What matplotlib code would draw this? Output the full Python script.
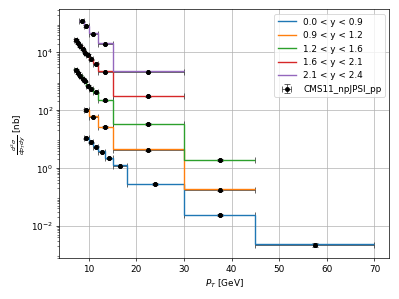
import numpy as np
import matplotlib
matplotlib.use("Agg")
import matplotlib.pyplot as plt
from matplotlib.ticker import LogLocator

# bin edges per rapidity slice
edges_y1 = [9, 10, 11, 12, 13.5, 15, 18, 30, 45, 70]
edges_y2 = [9, 10, 12, 15, 30, 45]
edges_y3 = [7, 7.5, 8, 8.5, 9, 9.5, 10, 11, 12, 15, 30, 45]
edges_y4 = [7, 7.5, 8, 8.5, 9, 9.5, 10, 11, 12, 15, 30]
edges_y5 = [8, 9, 10, 12, 15, 30]

# measured cross sections (black points)
data_y1 = [10.6, 7.7, 5.4, 3.65, 2.2, 1.2, 0.28, 0.0234, 0.00226]
data_y2 = [100, 60, 26, 4.2, 0.18]
data_y3 = [2530, 1930, 1570, 1240, 1000, 710, 560, 415, 216, 33, 1.9]
data_y4 = [26600, 20400, 16500, 12700, 9800, 8100, 5700, 4100, 2150, 297]
data_y5 = [117000, 81000, 44000, 20000, 2150]

err_y1 = [0.5, 0.35, 0.25, 0.17, 0.1, 0.06, 0.015, 0.002, 0.0004]
err_y2 = [6, 3.5, 1.5, 0.25, 0.015]
err_y3 = [150, 110, 90, 70, 55, 40, 30, 22, 12, 2, 0.15]
err_y4 = [1600, 1200, 950, 700, 550, 450, 320, 230, 120, 18]
err_y5 = [7000, 4500, 2500, 1100, 130]

# histogram (coloured steps)
pred_y1 = [10.9, 7.9, 5.6, 3.8, 2.3, 1.25, 0.29, 0.0245, 0.00235]
pred_y2 = [104, 62, 27, 4.4, 0.19]
pred_y3 = [2600, 1990, 1620, 1280, 1030, 730, 575, 430, 222, 34, 1.95]
pred_y4 = [27400, 21000, 17000, 13100, 10100, 8350, 5870, 4220, 2210, 306]
pred_y5 = [120500, 83400, 45300, 20600, 2210]

labels = ["0.0 < y < 0.9", "0.9 < y < 1.2", "1.2 < y < 1.6",
          "1.6 < y < 2.1", "2.1 < y < 2.4"]

all_edges = [edges_y1, edges_y2, edges_y3, edges_y4, edges_y5]
all_data = [data_y1, data_y2, data_y3, data_y4, data_y5]
all_err = [err_y1, err_y2, err_y3, err_y4, err_y5]
all_pred = [pred_y1, pred_y2, pred_y3, pred_y4, pred_y5]

plt.rcParams["font.size"] = 10.3

fig, ax = plt.subplots(figsize=(6.4, 4.8), dpi=62.35)

for i in range(5):
    ax.stairs(all_pred[i], all_edges[i], baseline=None, color="C%d" % i,
              linewidth=1.6, label=labels[i], zorder=2.5)

xs, xe, ys, ye = [], [], [], []
for i in range(5):
    e = np.array(all_edges[i])
    xs += list((e[1:] + e[:-1]) / 2)
    xe += list((e[1:] - e[:-1]) / 2)
    ys += all_data[i]
    ye += all_err[i]

ax.errorbar(xs, ys, xerr=xe, yerr=ye, fmt="o", color="k", ecolor="0.25",
            markersize=4.5, elinewidth=0.9, capsize=3, capthick=0.9,
            label="CMS11_npJPSI_pp", zorder=2)
# points again on top of the steps
ax.plot(xs, ys, "o", color="k", markersize=4.5, zorder=3)

ax.set_yscale("log")
ax.yaxis.set_major_locator(LogLocator(base=10, numticks=5))
ax.set_xlabel(r"$P_T$ [GeV]")
ax.set_ylabel(r"$\frac{d^2\sigma}{dp_T dy}$ [nb]")
ax.grid(True)
ax.legend(loc="upper right")

plt.tight_layout()
plt.savefig("out.png", dpi=62.35)
